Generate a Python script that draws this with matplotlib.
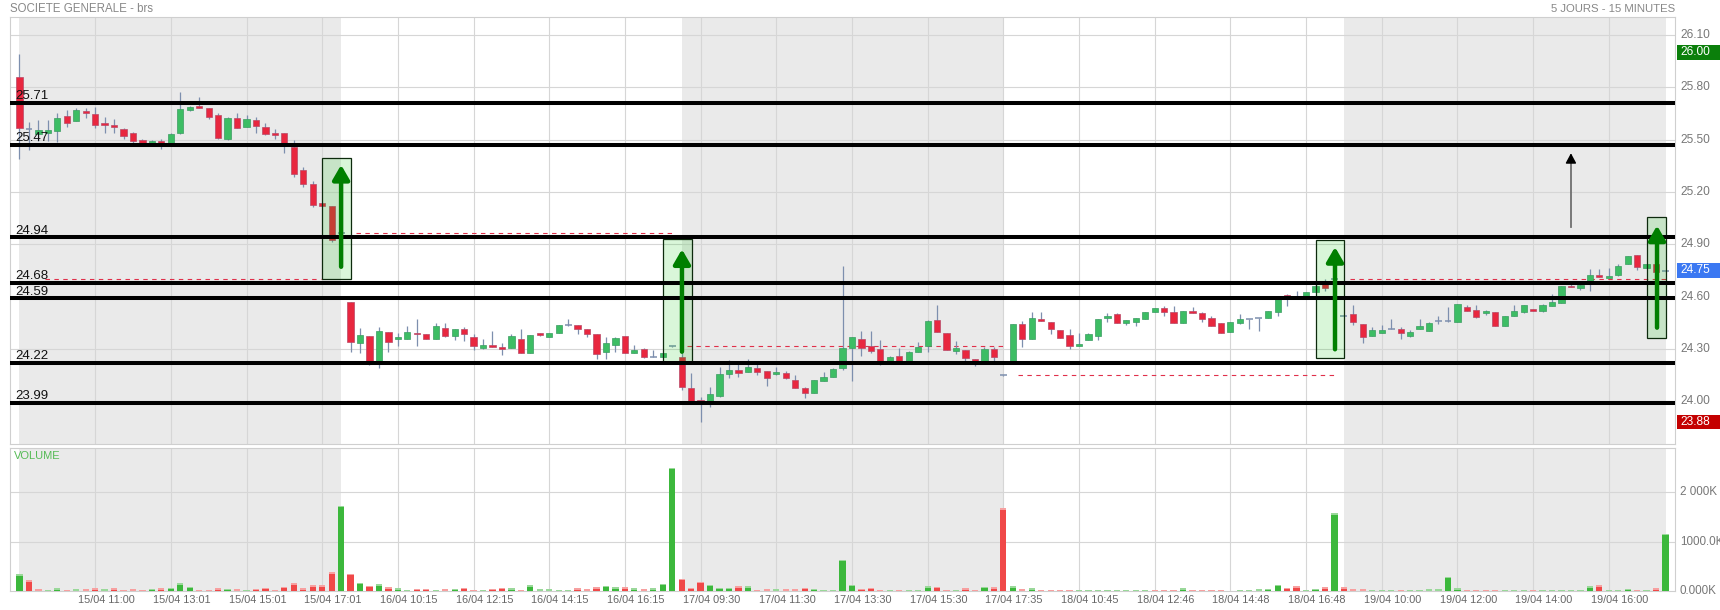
import numpy as np
import matplotlib
matplotlib.use("Agg")
import matplotlib.pyplot as plt
import matplotlib.transforms as mtransforms
from matplotlib.patches import Rectangle

plt.rcParams['font.family'] = ['Liberation Sans', 'DejaVu Sans']

# ---------------- data ----------------
title_left = "SOCIETE GENERALE - brs"
title_right = "5 JOURS - 15 MINUTES"

opens = [25.857, 25.56, 25.532, 25.540, 25.551, 25.636, 25.609, 25.664, 25.645, 25.595,
         25.584, 25.559, 25.536, 25.498, 25.469, 25.492, 25.464, 25.536, 25.670, 25.693,
         25.680, 25.641, 25.502, 25.622, 25.575, 25.613, 25.570, 25.540, 25.536, 25.456,
         25.326, 25.244, 25.135, 25.121, 24.965,
         24.571, 24.332, 24.374, 24.217, 24.395, 24.355, 24.359, 24.393, 24.386, 24.359,
         24.418, 24.376, 24.412, 24.367, 24.307, 24.321, 24.313, 24.307, 24.355, 24.279,
         24.393, 24.370, 24.389, 24.435, 24.435, 24.412, 24.386, 24.281, 24.324, 24.374,
         24.275, 24.298, 24.252, 24.252, 24.315,
         24.256, 24.074, 24.007, 23.988, 24.032, 24.154, 24.179, 24.169, 24.192, 24.173,
         24.154, 24.160, 24.122, 24.074, 24.049, 24.118, 24.141, 24.189, 24.303, 24.355,
         24.315, 24.298, 24.221, 24.257, 24.221, 24.281, 24.317, 24.464, 24.389, 24.286,
         24.292, 24.240, 24.215, 24.298, 24.149,
         24.221, 24.443, 24.355, 24.470, 24.452, 24.408, 24.380, 24.319, 24.351, 24.376,
         24.479, 24.498, 24.451, 24.456, 24.470, 24.514, 24.533, 24.514, 24.447, 24.517,
         24.504, 24.475, 24.447, 24.399, 24.447, 24.472, 24.475, 24.475, 24.514, 24.608,
         24.600, 24.594, 24.628, 24.680, 24.700,
         24.489, 24.500, 24.441, 24.376, 24.393, 24.412, 24.412, 24.376, 24.416, 24.405,
         24.460, 24.460, 24.452, 24.538, 24.521, 24.504, 24.510, 24.433, 24.491, 24.514,
         24.529, 24.519, 24.548, 24.565, 24.663, 24.651, 24.686, 24.724, 24.708, 24.726,
         24.785, 24.838, 24.762, 24.787, 24.745]
highs = [25.990, 25.600, 25.613, 25.613, 25.651, 25.670, 25.683, 25.680, 25.689, 25.632,
         25.617, 25.565, 25.546, 25.502, 25.498, 25.502, 25.540, 25.775, 25.693, 25.746,
         25.680, 25.651, 25.628, 25.655, 25.641, 25.632, 25.594, 25.559, 25.536, 25.498,
         25.345, 25.263, 25.135, 25.121, 24.968,
         24.571, 24.418, 24.374, 24.428, 24.395, 24.393, 24.431, 24.470, 24.386, 24.447,
         24.447, 24.412, 24.424, 24.386, 24.355, 24.403, 24.332, 24.386, 24.412, 24.380,
         24.393, 24.393, 24.439, 24.470, 24.435, 24.412, 24.386, 24.370, 24.370, 24.374,
         24.322, 24.303, 24.294, 24.275, 24.317,
         24.278, 24.160, 24.026, 24.080, 24.198, 24.236, 24.231, 24.242, 24.223, 24.173,
         24.198, 24.175, 24.150, 24.083, 24.122, 24.169, 24.192, 24.775, 24.366, 24.403,
         24.403, 24.351, 24.261, 24.305, 24.288, 24.338, 24.466, 24.550, 24.389, 24.345,
         24.292, 24.240, 24.313, 24.313, 24.151,
         24.443, 24.462, 24.510, 24.510, 24.452, 24.408, 24.412, 24.389, 24.393, 24.470,
         24.508, 24.504, 24.466, 24.475, 24.510, 24.533, 24.548, 24.546, 24.519, 24.538,
         24.514, 24.489, 24.447, 24.452, 24.500, 24.472, 24.475, 24.519, 24.600, 24.615,
         24.632, 24.628, 24.686, 24.699, 24.702,
         24.491, 24.552, 24.441, 24.424, 24.437, 24.470, 24.424, 24.408, 24.470, 24.456,
         24.489, 24.542, 24.556, 24.552, 24.552, 24.523, 24.510, 24.489, 24.552, 24.552,
         24.529, 24.558, 24.615, 24.661, 24.686, 24.686, 24.756, 24.756, 24.762, 24.787,
         24.833, 24.838, 24.787, 24.787, 24.747]
lows = [25.387, 25.440, 25.492, 25.492, 25.488, 25.575, 25.607, 25.622, 25.565, 25.536,
        25.540, 25.502, 25.479, 25.464, 25.464, 25.445, 25.464, 25.532, 25.666, 25.680,
        25.618, 25.504, 25.498, 25.565, 25.575, 25.540, 25.529, 25.502, 25.421, 25.288,
        25.230, 25.116, 25.121, 24.915, 24.962,
        24.284, 24.275, 24.210, 24.189, 24.284, 24.319, 24.359, 24.319, 24.355, 24.359,
        24.370, 24.351, 24.347, 24.294, 24.298, 24.313, 24.265, 24.307, 24.279, 24.279,
        24.374, 24.366, 24.389, 24.431, 24.384, 24.370, 24.244, 24.240, 24.284, 24.275,
        24.275, 24.246, 24.252, 24.252, 24.313,
        24.066, 24.003, 23.880, 23.965, 24.026, 24.131, 24.141, 24.169, 24.150, 24.087,
        24.150, 24.127, 24.078, 24.017, 24.045, 24.118, 24.141, 24.179, 24.118, 24.259,
        24.278, 24.210, 24.215, 24.227, 24.215, 24.281, 24.284, 24.399, 24.294, 24.271,
        24.227, 24.200, 24.215, 24.233, 24.147,
        24.215, 24.309, 24.355, 24.458, 24.385, 24.361, 24.300, 24.319, 24.351, 24.351,
        24.452, 24.451, 24.439, 24.433, 24.470, 24.514, 24.491, 24.451, 24.447, 24.508,
        24.456, 24.433, 24.393, 24.399, 24.441, 24.414, 24.405, 24.475, 24.489, 24.548,
        24.594, 24.594, 24.628, 24.634, 24.698,
        24.487, 24.437, 24.332, 24.376, 24.393, 24.412, 24.355, 24.370, 24.416, 24.405,
        24.441, 24.456, 24.452, 24.517, 24.479, 24.494, 24.433, 24.433, 24.491, 24.504,
        24.519, 24.513, 24.548, 24.565, 24.657, 24.638, 24.632, 24.714, 24.708, 24.718,
        24.785, 24.752, 24.762, 24.739, 24.743]
closes = [25.565, 25.56, 25.555, 25.557, 25.622, 25.594, 25.670, 25.651, 25.582, 25.582,
          25.575, 25.521, 25.492, 25.469, 25.492, 25.464, 25.532, 25.674, 25.689, 25.680,
          25.632, 25.511, 25.622, 25.565, 25.617, 25.578, 25.532, 25.527, 25.469, 25.301,
          25.244, 25.125, 25.121, 24.925, 24.965,
          24.342, 24.380, 24.217, 24.403, 24.342, 24.367, 24.397, 24.384, 24.359, 24.432,
          24.376, 24.412, 24.384, 24.319, 24.321, 24.313, 24.301, 24.374, 24.279, 24.380,
          24.378, 24.393, 24.439, 24.435, 24.412, 24.384, 24.273, 24.332, 24.361, 24.275,
          24.294, 24.252, 24.252, 24.275, 24.315,
          24.083, 24.003, 23.992, 24.042, 24.156, 24.179, 24.164, 24.198, 24.169, 24.135,
          24.168, 24.131, 24.078, 24.045, 24.122, 24.141, 24.185, 24.303, 24.366, 24.303,
          24.290, 24.221, 24.252, 24.232, 24.281, 24.309, 24.460, 24.399, 24.294, 24.305,
          24.250, 24.215, 24.298, 24.256, 24.149,
          24.443, 24.355, 24.475, 24.458, 24.412, 24.364, 24.319, 24.328, 24.386, 24.470,
          24.491, 24.451, 24.466, 24.475, 24.510, 24.533, 24.510, 24.451, 24.519, 24.508,
          24.470, 24.433, 24.393, 24.452, 24.470, 24.472, 24.475, 24.519, 24.596, 24.590,
          24.594, 24.624, 24.661, 24.647, 24.700,
          24.489, 24.456, 24.370, 24.408, 24.408, 24.412, 24.393, 24.395, 24.431, 24.450,
          24.460, 24.460, 24.556, 24.517, 24.485, 24.515, 24.433, 24.489, 24.517, 24.552,
          24.519, 24.552, 24.571, 24.661, 24.657, 24.667, 24.724, 24.714, 24.718, 24.775,
          24.833, 24.768, 24.787, 24.739, 24.745]

# volume in thousands, and colour code per day (g = up, r = down)
volumes = [339, 217, 34, 27, 54, 27, 34, 34, 54, 34, 54, 27, 34, 14, 41, 54, 68, 156, 81, 14,
           14, 54, 47, 34, 27, 47, 61, 14, 81, 156, 54, 115, 115, 380, 1722,
           353, 169, 102, 136, 75, 54, 14, 47, 41, 27, 34, 47, 61, 14, 14, 47, 61, 54, 20, 115,
           34, 34, 27, 27, 54, 34, 75, 108, 75, 75, 54, 34, 54, 149, 2495,
           244, 61, 183, 129, 68, 68, 95, 95, 27, 34, 34, 34, 34, 61, 47, 20, 14, 637, 129, 47,
           61, 27, 27, 14, 14, 27, 95, 81, 27, 14, 54, 14, 88, 75, 1675,
           95, 34, 54, 14, 14, 14, 14, 14, 14, 27, 14, 14, 14, 14, 14, 14, 14, 27, 54, 14,
           14, 14, 14, 7, 27, 14, 34, 41, 129, 68, 95, 20, 47, 75, 1573,
           75, 34, 34, 14, 14, 14, 27, 14, 14, 34, 34, 292, 54, 14, 14, 14, 27, 14, 14, 14,
           14, 14, 14, 14, 14, 14, 95, 115, 27, 27, 47, 27, 14, 54, 1166]
vol_dir_days = ["grrggrgrrgrrrrgrgggrrrgrgrrrrrrrrrg",
                "rgrgrggrrgrgrrgrrgrgggggrrrggrgrggg",
                "rrrgggrgrrgrrrgggggrrrgrgggrrgrrgrr",
                "grgrrrrggggggggrrrgrrrrggggggrrggrg",
                "rrrgggrggggggrrrrgggrggggggrgggrgrg"]
vol_dir = "".join(vol_dir_days)

# x tick labels (one every 8 candles)
xtick_labels = ['15/04 11:00', '15/04 13:01', '15/04 15:01', '15/04 17:01',
                '16/04 10:15', '16/04 12:15', '16/04 14:15', '16/04 16:15',
                '17/04 09:30', '17/04 11:30', '17/04 13:30', '17/04 15:30',
                '17/04 17:35', '18/04 10:45', '18/04 12:46', '18/04 14:48',
                '18/04 16:48', '19/04 10:00', '19/04 12:00', '19/04 14:00', '19/04 16:00']
price_ticks = [24.00, 24.30, 24.60, 24.90, 25.20, 25.50, 25.80, 26.10]
vol_ticks = [0, 1000, 2000]
vol_tick_labels = ['0.000K', '1000.0K', '2 000K']

levels = [25.71, 25.47, 24.94, 24.68, 24.59, 24.22, 23.99]
prev_close = [24.70, 24.965, 24.315, 24.149, 24.70]   # reference (previous close) per day

# signal boxes: (start idx, end idx, low, high) and arrows (idx, tail, tip)
boxes = [(32.0, 35.0, 24.699, 25.393), (68.05, 71.06, 24.227, 24.929),
         (137.1, 140.0, 24.246, 24.925), (172.07, 174.1, 24.361, 25.055)]
arrows = [(34.0, 24.771, 25.355), (70.03, 24.284, 24.871),
          (139.06, 24.298, 24.884), (173.1, 24.422, 25.007)]
black_arrow = (164.0, 24.997, 25.422)

high_mark, last_mark, low_mark = 26.00, 24.75, 23.88

# ---------------- figure ----------------
W, H = 1720, 610
fig = plt.figure(figsize=(W / 100, H / 100), dpi=100)
fig.patch.set_facecolor('white')


def rect(l, t, r, b):
    return [l / W, 1 - b / H, (r - l) / W, (b - t) / H]


ax = fig.add_axes(rect(10, 17, 1675, 444))
axv = fig.add_axes(rect(10, 448, 1675, 591))

n = len(opens)
x = np.arange(n)
o = np.array(opens); c = np.array(closes); h = np.array(highs); l = np.array(lows)

XMIN, XMAX = -1.0, 175.0
days_per = 35
shade_col = '#eaeaea'
grid_col = '#d6d6d6'
tick_pos = list(range(8, 169, 8))

for a in (ax, axv):
    a.set_xlim(XMIN, XMAX)
    for d in (0, 2, 4):
        a.axvspan(d * days_per, d * days_per + 34, color=shade_col, lw=0, zorder=0)
    a.set_xticks(tick_pos)
    a.tick_params(length=0, labelleft=False, labelbottom=False)
    a.grid(True, color=grid_col, lw=0.8, zorder=1)
    a.set_axisbelow(True)
    for s in a.spines.values():
        s.set_color('#cfcfcf')
        s.set_linewidth(0.8)

ax.set_ylim(23.755, 26.203)
ax.set_yticks(price_ticks)
axv.set_ylim(0, 2900)
axv.set_yticks(vol_ticks[1:])

# previous-close dashed lines per day
for d, pc in enumerate(prev_close):
    s = d * days_per + (2.7 if d == 0 else 0.6)
    e = d * days_per + (31.9 if d == 0 else 34.1)
    ax.plot([s, e], [pc, pc], color='#e0304a', lw=0.8, ls=(0, (4, 4)), zorder=2)

# candles
up = c > o + 0.0005
dn = c < o - 0.0005
flat = ~(up | dn)
wick_col = '#7d8fae'
ax.vlines(x, l, h, color=wick_col, lw=0.9, zorder=3)
ax.bar(x[up], (c - o)[up], bottom=o[up], width=0.66, color='#3dbd64',
       edgecolor='#3a9c62', lw=0.5, zorder=4)
ax.bar(x[dn], (o - c)[dn], bottom=c[dn], width=0.66, color='#e8273f',
       edgecolor='#b84a68', lw=0.5, zorder=4)
ax.hlines(c[flat], x[flat] - 0.36, x[flat] + 0.36, color=wick_col, lw=1.1, zorder=4)

# boxes
for (x0, x1, y0, y1) in boxes:
    ax.add_patch(Rectangle((x0, y0), x1 - x0, y1 - y0, facecolor=(0.0, 0.78, 0.0, 0.15),
                           edgecolor='#0d2a0d', lw=0.9, zorder=5))

# level lines + labels
for lv in levels:
    ax.axhline(lv, color='black', lw=2.9, zorder=6)
    ax.text(-0.45, lv + 3.7 / 174.4, f'{lv:.2f}', fontsize=9.5, color='#111111',
            va='baseline', ha='left', zorder=7)

# green arrows
for (xa, tail, tip) in arrows:
    ax.annotate('', xy=(xa, tip), xytext=(xa, tail),
                arrowprops=dict(arrowstyle='-|>,head_length=0.62,head_width=0.36',
                                mutation_scale=14, lw=3.2, color='#007f00',
                                shrinkA=0, shrinkB=0), zorder=9)

# black arrow
bx, btail, btip = black_arrow
ax.plot([bx, bx], [btail, btip - 0.04], color='#707070', lw=1.3, zorder=9)
ax.annotate('', xy=(bx, btip), xytext=(bx, btip - 0.05),
            arrowprops=dict(arrowstyle='-|>,head_length=0.6,head_width=0.32',
                            mutation_scale=10, lw=1.0, color='black',
                            shrinkA=0, shrinkB=0), zorder=10)

# right price labels
tr = mtransforms.blended_transform_factory(ax.transAxes, ax.transData)
xr = (1680 - 10) / 1665
for p in price_ticks:
    ax.text(xr, p, f'{p:.2f}', transform=tr, fontsize=8.6, color='#777777',
            va='center', ha='left', clip_on=False)

trf = mtransforms.blended_transform_factory(fig.transFigure, ax.transData)
for val, col in ((high_mark, '#0b7f0b'), (last_mark, '#3b78f2'), (low_mark, '#c40000')):
    hh = 14.5 / 174.4
    ax.add_patch(Rectangle((1677 / W, val - hh / 2), 43 / W, hh, transform=trf,
                           facecolor=col, edgecolor='none', clip_on=False, zorder=10))
    ax.text(1680 / W, val, f'{val:.2f}', transform=trf, fontsize=8.6, color='white',
            va='center', ha='left', clip_on=False, zorder=11)

# volume
vol = np.array(volumes, dtype=float)
is_up = np.array([ch == 'g' for ch in vol_dir])
vcols = np.where(is_up, '#3cb83c', '#f04848')
ccols = np.where(is_up, '#9ad89a', '#f7a0a0')
axv.bar(x, vol, width=0.66, color=vcols, zorder=3)
cap = np.minimum(vol, 28.0)
axv.bar(x, cap, bottom=vol - cap, width=0.66, color=ccols, zorder=3)
axv.text(4 / 1665, 1 - 8 / 143, 'VOLUME', transform=axv.transAxes, fontsize=8,
         color='#55bb55', va='center', ha='left')
trv = mtransforms.blended_transform_factory(axv.transAxes, axv.transData)
for v, lab in zip(vol_ticks, vol_tick_labels):
    axv.text(xr, v, lab, transform=trv, fontsize=8.4, color='#777777',
             va='center', ha='left', clip_on=False)

trx = mtransforms.blended_transform_factory(axv.transData, axv.transAxes)
for pos, lab in zip(tick_pos, xtick_labels):
    axv.text(pos + 1.15, -9 / 143, lab, transform=trx, fontsize=7.8, color='#666666',
             va='center', ha='center', clip_on=False)

fig.text(10 / W, 1 - 9 / H, title_left, fontsize=8.3, color='#888888', va='center', ha='left')
fig.text(1675 / W, 1 - 9 / H, title_right, fontsize=8.2, color='#888888', va='center', ha='right')

fig.savefig('out.png', dpi=100)
